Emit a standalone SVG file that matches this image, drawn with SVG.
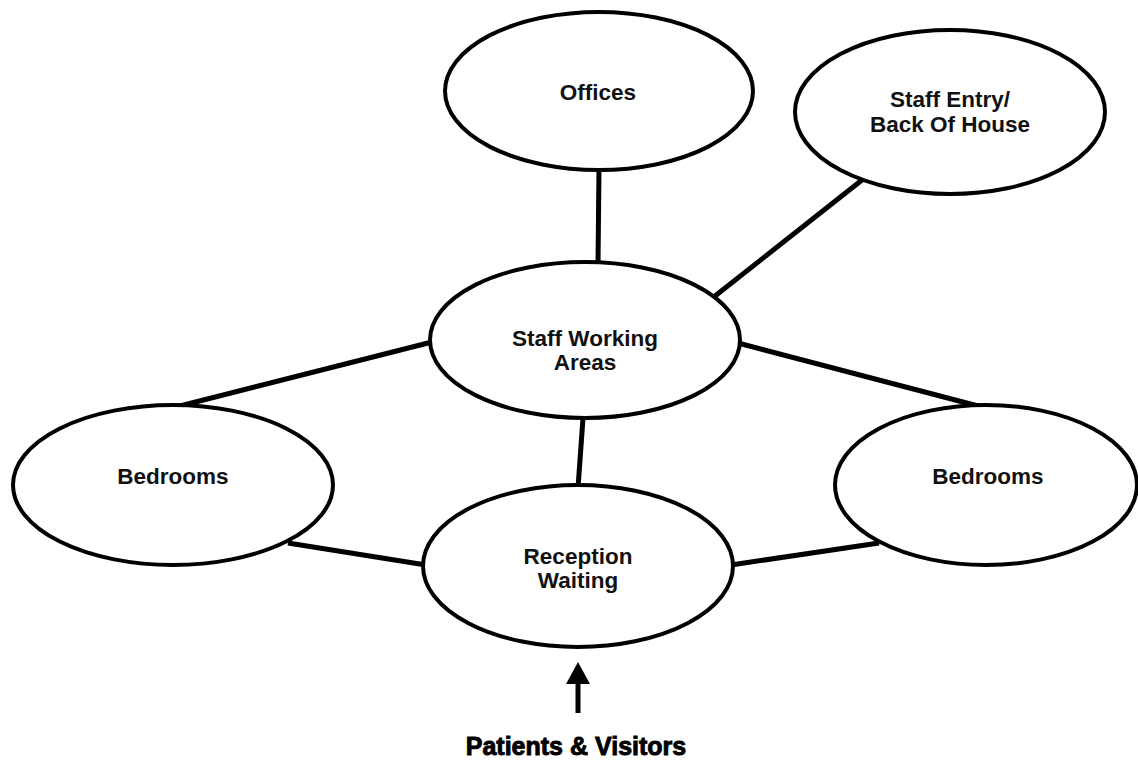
<svg xmlns="http://www.w3.org/2000/svg" width="1138" height="760" viewBox="0 0 1138 760">
<style>
.node{fill:#fff;stroke:#000;stroke-width:4}
.conn{stroke:#000;stroke-width:5;stroke-linecap:butt;fill:none}
.lbl{font-family:"Liberation Sans",Arial,sans-serif;font-weight:bold;font-size:22.5px;fill:#111;text-anchor:middle}
.big{font-family:"Liberation Sans",Arial,sans-serif;font-weight:bold;font-size:25px;fill:#000;stroke:#000;stroke-width:0.9;text-anchor:middle}
</style>
<rect width="1138" height="760" fill="#fff"/>
<g id="connectors">
<line class="conn" x1="599" y1="168" x2="598" y2="264"/>
<line class="conn" x1="862" y1="180" x2="715" y2="296"/>
<line class="conn" x1="432" y1="342" x2="176" y2="407"/>
<line class="conn" x1="738" y1="343" x2="982" y2="407"/>
<line class="conn" x1="583" y1="418" x2="578" y2="488"/>
<line class="conn" x1="288" y1="543" x2="426" y2="565"/>
<line class="conn" x1="731" y1="565" x2="879" y2="543"/>
<line class="conn" x1="578" y1="713" x2="578" y2="680" stroke-width="6"/>
<polygon points="578,662 566,684 590,684" fill="#000"/>
</g>
<g id="offices">
<ellipse class="node" cx="599" cy="91" rx="154" ry="79"/>
<text class="lbl" x="598" y="100">Offices</text>
</g>
<g id="staff-entry">
<ellipse class="node" cx="950" cy="112" rx="155" ry="82"/>
<text class="lbl" x="950" y="107">Staff Entry/</text>
<text class="lbl" x="950" y="132">Back Of House</text>
</g>
<g id="staff-working">
<ellipse class="node" cx="585" cy="340" rx="155" ry="78"/>
<text class="lbl" x="585" y="346">Staff Working</text>
<text class="lbl" x="585" y="370">Areas</text>
</g>
<g id="bedrooms-left">
<ellipse class="node" cx="173" cy="485" rx="160" ry="80"/>
<text class="lbl" x="173" y="484">Bedrooms</text>
</g>
<g id="bedrooms-right">
<ellipse class="node" cx="986" cy="485" rx="151" ry="80"/>
<text class="lbl" x="988" y="484">Bedrooms</text>
</g>
<g id="reception">
<ellipse class="node" cx="578" cy="566" rx="155" ry="81"/>
<text class="lbl" x="578" y="564">Reception</text>
<text class="lbl" x="578" y="588">Waiting</text>
</g>
<g id="patients">
<text class="big" x="576" y="755">Patients &amp; Visitors</text>
</g>
</svg>
